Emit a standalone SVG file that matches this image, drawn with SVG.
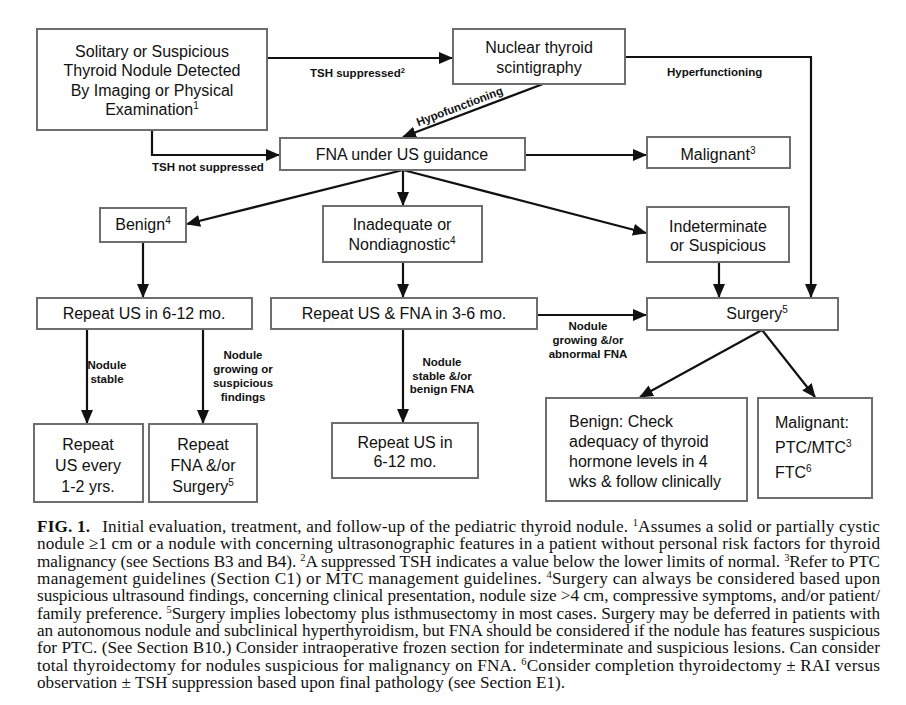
<svg xmlns="http://www.w3.org/2000/svg" width="906" height="705" viewBox="0 0 906 705">
<style>
.box{fill:#fff;stroke:#6e6e6e;stroke-width:2}
.t{font-family:"Liberation Sans",Arial,sans-serif;font-size:16px;fill:#111}
.c{text-anchor:middle}
.lb{font-family:"Liberation Sans",Arial,sans-serif;font-size:11.5px;font-weight:bold;fill:#111}
.ln{fill:none;stroke:#111;stroke-width:2.2}
.cap{font-family:"Liberation Serif","Times New Roman",serif;font-size:17.2px;fill:#111}
</style>
<defs>
<marker id="ah" markerUnits="userSpaceOnUse" markerWidth="14" markerHeight="12" refX="13" refY="6" orient="auto">
<path d="M0,0 L14,6 L0,12 Z" fill="#111"/>
</marker>
</defs>
<rect width="906" height="705" fill="#fff"/>

<g id="connectors">
<path class="ln" d="M267,58 H452" marker-end="url(#ah)"/>
<path class="ln" d="M152,130 V155 H279" marker-end="url(#ah)"/>
<path class="ln" d="M625,57 H811 V297" marker-end="url(#ah)"/>
<path class="ln" d="M543,84 L403,137" marker-end="url(#ah)"/>
<path class="ln" d="M525,155 H646" marker-end="url(#ah)"/>
<path class="ln" d="M403,170 L187,224" marker-end="url(#ah)"/>
<path class="ln" d="M403,170 V205" marker-end="url(#ah)"/>
<path class="ln" d="M403,170 L646,233" marker-end="url(#ah)"/>
<path class="ln" d="M143,242 V297" marker-end="url(#ah)"/>
<path class="ln" d="M403,262 V297" marker-end="url(#ah)"/>
<path class="ln" d="M719,262 V297" marker-end="url(#ah)"/>
<path class="ln" d="M537,315 H646" marker-end="url(#ah)"/>
<path class="ln" d="M87,329 V423" marker-end="url(#ah)"/>
<path class="ln" d="M203,329 V423" marker-end="url(#ah)"/>
<path class="ln" d="M403,329 V422" marker-end="url(#ah)"/>
<path class="ln" d="M762,330 L640,397" marker-end="url(#ah)"/>
<path class="ln" d="M762,330 L815,397" marker-end="url(#ah)"/>
<text class="lb" x="310" y="77">TSH suppressed<tspan font-size="7.5" dy="-4">2</tspan></text>
<text class="lb" x="667" y="76">Hyperfunctioning</text>
<text class="lb" x="152" y="171">TSH not suppressed</text>
<text class="lb c" x="461" y="110" transform="rotate(-20.7 461 110)">Hypofunctioning</text>
<text class="lb c" x="588"><tspan x="588" y="330">Nodule</tspan><tspan x="588" y="344">growing &amp;/or</tspan><tspan x="588" y="358">abnormal FNA</tspan></text>
<text class="lb c" x="107"><tspan x="107" y="369">Nodule</tspan><tspan x="107" y="383">stable</tspan></text>
<text class="lb c" x="243"><tspan x="243" y="359">Nodule</tspan><tspan x="243" y="373">growing or</tspan><tspan x="243" y="387">suspicious</tspan><tspan x="243" y="401">findings</tspan></text>
<text class="lb c" x="442"><tspan x="442" y="366">Nodule</tspan><tspan x="442" y="380">stable &amp;/or</tspan><tspan x="442" y="393">benign FNA</tspan></text>
</g>

<g id="n-solitary">
<rect class="box" x="37" y="29" width="230" height="101"/>
<text class="t c"><tspan x="152" y="57">Solitary or Suspicious</tspan><tspan x="152" y="76">Thyroid Nodule Detected</tspan><tspan x="152" y="96">By Imaging or Physical</tspan><tspan x="152" y="115">Examination<tspan font-size="10" dy="-6">1</tspan></tspan></text>
</g>
<g id="n-nuclear">
<rect class="box" x="453" y="29" width="172" height="55"/>
<text class="t c"><tspan x="539" y="53">Nuclear thyroid</tspan><tspan x="539" y="73">scintigraphy</tspan></text>
</g>
<g id="n-fna">
<rect class="box" x="280" y="138" width="245" height="32"/>
<text class="t c" x="402" y="160">FNA under US guidance</text>
</g>
<g id="n-malignant">
<rect class="box" x="647" y="137" width="143" height="31"/>
<text class="t c" x="718" y="160">Malignant<tspan font-size="10" dy="-6">3</tspan></text>
</g>
<g id="n-benign">
<rect class="box" x="100" y="208" width="86" height="34"/>
<text class="t c" x="143" y="230">Benign<tspan font-size="10" dy="-6">4</tspan></text>
</g>
<g id="n-inadequate">
<rect class="box" x="323" y="206" width="159" height="56"/>
<text class="t c"><tspan x="402" y="230">Inadequate or</tspan><tspan x="402" y="250">Nondiagnostic<tspan font-size="10" dy="-6">4</tspan></tspan></text>
</g>
<g id="n-indeterminate">
<rect class="box" x="647" y="207" width="142" height="55"/>
<text class="t c"><tspan x="718" y="232">Indeterminate</tspan><tspan x="718" y="251">or Suspicious</tspan></text>
</g>
<g id="n-repeat-us">
<rect class="box" x="37" y="298" width="215" height="31"/>
<text class="t c" x="144" y="319">Repeat US in 6-12 mo.</text>
</g>
<g id="n-repeat-us-fna">
<rect class="box" x="271" y="298" width="266" height="31"/>
<text class="t c" x="404" y="319">Repeat US &amp; FNA in 3-6 mo.</text>
</g>
<g id="n-surgery">
<rect class="box" x="647" y="298" width="191" height="32"/>
<text class="t c" x="757" y="319">Surgery<tspan font-size="10" dy="-6">5</tspan></text>
</g>
<g id="n-repeat-every">
<rect class="box" x="34" y="424" width="109" height="78"/>
<text class="t c"><tspan x="88" y="450">Repeat</tspan><tspan x="88" y="471">US every</tspan><tspan x="88" y="492">1-2 yrs.</tspan></text>
</g>
<g id="n-repeat-fna">
<rect class="box" x="149" y="424" width="108" height="78"/>
<text class="t c"><tspan x="203" y="450">Repeat</tspan><tspan x="203" y="471">FNA &amp;/or</tspan><tspan x="203" y="492">Surgery<tspan font-size="10" dy="-6">5</tspan></tspan></text>
</g>
<g id="n-repeat-us2">
<rect class="box" x="332" y="423" width="146" height="55"/>
<text class="t c"><tspan x="405" y="448">Repeat US in</tspan><tspan x="405" y="467">6-12 mo.</tspan></text>
</g>
<g id="n-benign-check">
<rect class="box" x="546" y="398" width="201" height="103"/>
<text class="t"><tspan x="569" y="427">Benign: Check</tspan><tspan x="569" y="447">adequacy of thyroid</tspan><tspan x="569" y="467">hormone levels in 4</tspan><tspan x="569" y="487">wks &amp; follow clinically</tspan></text>
</g>
<g id="n-malignant2">
<rect class="box" x="758" y="398" width="114" height="100"/>
<text class="t"><tspan x="775" y="428">Malignant:</tspan><tspan x="775" y="453">PTC/MTC<tspan font-size="10" dy="-6">3</tspan></tspan><tspan x="775" y="478">FTC<tspan font-size="10" dy="-6">6</tspan></tspan></text>
</g>

<g id="caption">
<text class="cap" x="37" y="532" textLength="843" lengthAdjust="spacing"><tspan font-weight="bold">FIG. 1.</tspan><tspan dx="12">Initial evaluation, treatment, and follow-up of the pediatric thyroid nodule. </tspan><tspan font-size="10.5" dy="-6">1</tspan><tspan dy="6">Assumes a solid or partially cystic</tspan></text>
<text class="cap" x="37" y="549.3" textLength="843" lengthAdjust="spacing">nodule ≥1 cm or a nodule with concerning ultrasonographic features in a patient without personal risk factors for thyroid</text>
<text class="cap" x="37" y="566.7" textLength="843" lengthAdjust="spacing">malignancy (see Sections B3 and B4). <tspan font-size="10.5" dy="-6">2</tspan><tspan dy="6">A suppressed TSH indicates a value below the lower limits of normal. </tspan><tspan font-size="10.5" dy="-6">3</tspan><tspan dy="6">Refer to PTC</tspan></text>
<text class="cap" x="37" y="584" textLength="843" lengthAdjust="spacing">management guidelines (Section C1) or MTC management guidelines. <tspan font-size="10.5" dy="-6">4</tspan><tspan dy="6">Surgery can always be considered based upon</tspan></text>
<text class="cap" x="37" y="601.3" textLength="843" lengthAdjust="spacing">suspicious ultrasound findings, concerning clinical presentation, nodule size &gt;4 cm, compressive symptoms, and/or patient/</text>
<text class="cap" x="37" y="618.7" textLength="843" lengthAdjust="spacing">family preference. <tspan font-size="10.5" dy="-6">5</tspan><tspan dy="6">Surgery implies lobectomy plus isthmusectomy in most cases. Surgery may be deferred in patients with</tspan></text>
<text class="cap" x="37" y="636" textLength="843" lengthAdjust="spacing">an autonomous nodule and subclinical hyperthyroidism, but FNA should be considered if the nodule has features suspicious</text>
<text class="cap" x="37" y="653.3" textLength="843" lengthAdjust="spacing">for PTC. (See Section B10.) Consider intraoperative frozen section for indeterminate and suspicious lesions. Can consider</text>
<text class="cap" x="37" y="670.7" textLength="843" lengthAdjust="spacing">total thyroidectomy for nodules suspicious for malignancy on FNA. <tspan font-size="10.5" dy="-6">6</tspan><tspan dy="6">Consider completion thyroidectomy ± RAI versus</tspan></text>
<text class="cap" x="37" y="688">observation ± TSH suppression based upon final pathology (see Section E1).</text>
</g>
</svg>
